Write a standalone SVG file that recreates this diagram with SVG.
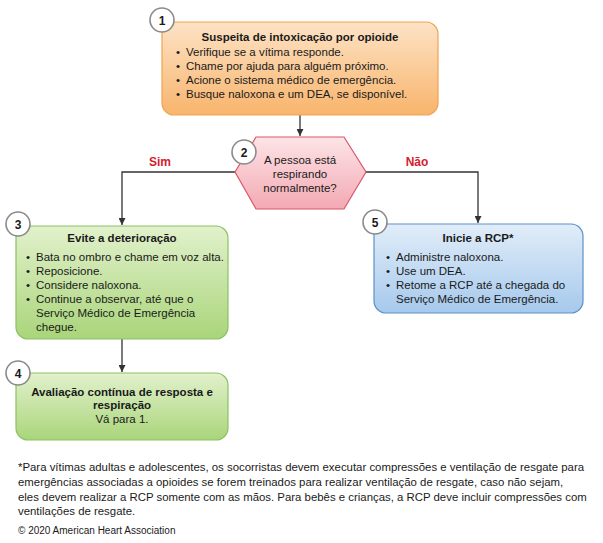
<svg xmlns="http://www.w3.org/2000/svg" width="603" height="543" viewBox="0 0 603 543">
<defs>
<linearGradient id="gOrange" x1="0" y1="0" x2="0" y2="1">
<stop offset="0" stop-color="#fde3c6"/><stop offset="1" stop-color="#f8b46c"/>
</linearGradient>
<linearGradient id="gGreen" x1="0" y1="0" x2="0" y2="1">
<stop offset="0" stop-color="#e2f1cc"/><stop offset="1" stop-color="#a9d57a"/>
</linearGradient>
<linearGradient id="gBlue" x1="0" y1="0" x2="0" y2="1">
<stop offset="0" stop-color="#e1edf9"/><stop offset="1" stop-color="#a6c9ec"/>
</linearGradient>
<linearGradient id="gPink" x1="0" y1="0" x2="0" y2="1">
<stop offset="0" stop-color="#fde4e7"/><stop offset="1" stop-color="#f3a9b3"/>
</linearGradient>
<marker id="arr" viewBox="0 0 10 10" refX="10" refY="5" markerWidth="7" markerHeight="7" orient="auto" markerUnits="userSpaceOnUse">
<path d="M0,0 L10,5 L0,10 Z" fill="#333"/>
</marker>
</defs>
<style>
text{font-family:"Liberation Sans",Arial,sans-serif;fill:#1a1a1a}
.t{font-size:11.5px;font-weight:bold;text-anchor:middle}
.b{font-size:11.5px}
.c{text-anchor:middle}
.n{font-size:12px;font-weight:bold;text-anchor:middle}
.lab{font-size:12px;font-weight:bold;fill:#d3202f;text-anchor:middle}
.fn{font-size:11.4px}
.badge{fill:#fff;stroke:#8a8a8a;stroke-width:1.6}
.con{fill:none;stroke:#333;stroke-width:1.3}
</style>

<g id="connectors">
<line class="con" x1="300" y1="115" x2="300" y2="136" marker-end="url(#arr)"/>
<polyline class="con" points="235,172 122,172 122,225" marker-end="url(#arr)"/>
<polyline class="con" points="366,172 478,172 478,223" marker-end="url(#arr)"/>
<line class="con" x1="122" y1="339" x2="122" y2="372" marker-end="url(#arr)"/>
<text class="lab" x="160" y="166">Sim</text>
<text class="lab" x="417" y="166">Não</text>
</g>

<g id="node1">
<rect x="162" y="22" width="276" height="93" rx="12" fill="url(#gOrange)" stroke="#f0a350" stroke-width="1.2"/>
<circle class="badge" cx="162" cy="20" r="12"/>
<text class="n" x="162" y="24.5">1</text>
<text class="t" x="300" y="41">Suspeita de intoxicação por opioide</text>
<text class="b" x="176" y="56">•</text><text class="b" x="186" y="56">Verifique se a vítima responde.</text>
<text class="b" x="176" y="70">•</text><text class="b" x="186" y="70">Chame por ajuda para alguém próximo.</text>
<text class="b" x="176" y="84">•</text><text class="b" x="186" y="84">Acione o sistema médico de emergência.</text>
<text class="b" x="176" y="98">•</text><text class="b" x="186" y="98">Busque naloxona e um DEA, se disponível.</text>
</g>

<g id="node2">
<polygon points="235,172 256,137 344,137 366,172 344,209 256,209" fill="url(#gPink)" stroke="#d9566b" stroke-width="1.2"/>
<circle class="badge" cx="244" cy="152" r="12"/>
<text class="n" x="244" y="156.5">2</text>
<text class="b c" x="300" y="164">A pessoa está</text>
<text class="b c" x="300" y="178">respirando</text>
<text class="b c" x="300" y="192">normalmente?</text>
</g>

<g id="node3">
<rect x="16" y="226" width="212" height="113" rx="12" fill="url(#gGreen)" stroke="#8cc162" stroke-width="1.2"/>
<circle class="badge" cx="18" cy="224" r="12"/>
<text class="n" x="18" y="228.5">3</text>
<text class="t" x="122" y="242">Evite a deterioração</text>
<text class="b" x="26" y="261">•</text><text class="b" x="36" y="261">Bata no ombro e chame em voz alta.</text>
<text class="b" x="26" y="275">•</text><text class="b" x="36" y="275">Reposicione.</text>
<text class="b" x="26" y="289">•</text><text class="b" x="36" y="289">Considere naloxona.</text>
<text class="b" x="26" y="303">•</text><text class="b" x="36" y="303">Continue a observar, até que o</text>
<text class="b" x="36" y="317">Serviço Médico de Emergência</text>
<text class="b" x="36" y="331">chegue.</text>
</g>

<g id="node4">
<rect x="16" y="373" width="212" height="67" rx="12" fill="url(#gGreen)" stroke="#8cc162" stroke-width="1.2"/>
<circle class="badge" cx="18" cy="373" r="12"/>
<text class="n" x="18" y="377.5">4</text>
<text class="t" x="122" y="396">Avaliação contínua de resposta e</text>
<text class="t" x="122" y="409">respiração</text>
<text class="b c" x="122" y="423">Vá para 1.</text>
</g>

<g id="node5">
<rect x="374" y="224" width="209" height="89" rx="12" fill="url(#gBlue)" stroke="#5d91c9" stroke-width="1.2"/>
<circle class="badge" cx="375" cy="222" r="12"/>
<text class="n" x="375" y="226.5">5</text>
<text class="t" x="478" y="242">Inicie a RCP*</text>
<text class="b" x="386" y="261">•</text><text class="b" x="396" y="261">Administre naloxona.</text>
<text class="b" x="386" y="275">•</text><text class="b" x="396" y="275">Use um DEA.</text>
<text class="b" x="386" y="289">•</text><text class="b" x="396" y="289">Retome a RCP até a chegada do</text>
<text class="b" x="396" y="303">Serviço Médico de Emergência.</text>
</g>

<g id="footnote">
<text class="fn" x="18" y="471">*Para vítimas adultas e adolescentes, os socorristas devem executar compressões e ventilação de resgate para</text>
<text class="fn" x="18" y="486">emergências associadas a opioides se forem treinados para realizar ventilação de resgate, caso não sejam,</text>
<text class="fn" x="18" y="501">eles devem realizar a RCP somente com as mãos. Para bebês e crianças, a RCP deve incluir compressões com</text>
<text class="fn" x="18" y="515">ventilações de resgate.</text>
<text class="fn" x="18" y="534" style="font-size:10px">© 2020 American Heart Association</text>
</g>
</svg>
